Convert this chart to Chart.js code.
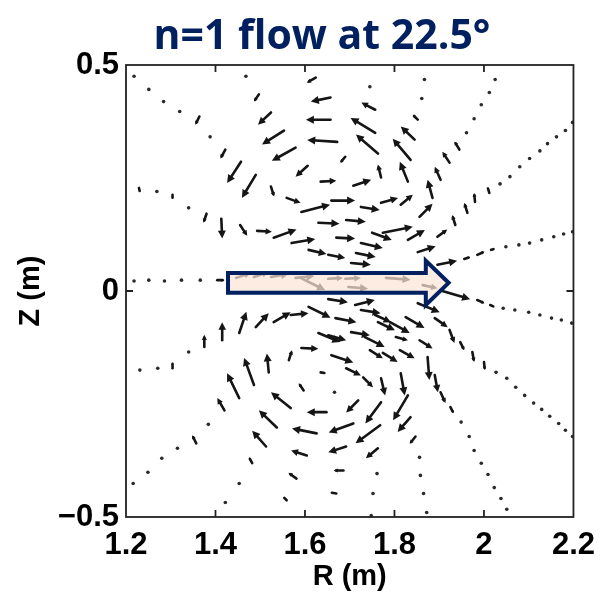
<!DOCTYPE html>
<html>
<head>
<meta charset="utf-8">
<script src="https://cdn.jsdelivr.net/npm/chart.js@4/dist/chart.umd.min.js"></script>
<style>
  html, body { margin: 0; padding: 0; background: #fff; }
  #wrap { width: 605px; height: 592px; }
</style>
</head>
<body>
<div id="wrap"><canvas id="flowChart" width="605" height="592"></canvas></div>
<script>
// flow vectors: tail position (R, Z) and arrow components (dR, dZ), all in metres
const arrowR = [
  1.364, 1.422, 1.457, 1.490, 1.524, 1.559, 1.592, 1.630, 1.497, 1.524,
  1.553, 1.579, 1.606, 1.635, 1.624, 1.657, 1.657, 1.672, 1.690, 1.757,
  1.757, 1.763, 1.770, 1.708, 1.659, 1.725, 1.770, 1.814, 1.852, 1.845,
  1.836, 1.830, 1.856, 1.885, 1.903, 1.923, 1.945, 1.963, 1.936, 1.896,
  1.852, 1.980, 2.012, 1.896, 1.956, 1.985, 2.016, 1.692, 1.670, 1.750,
  1.774, 1.830, 1.725, 1.608, 1.652, 1.714, 1.703, 1.229, 1.304, 1.380,
  1.413, 1.455, 1.493, 1.530, 1.570, 1.404, 1.446, 1.486, 1.524, 1.579,
  1.590, 1.652, 1.690, 1.781, 1.697, 1.863, 1.907, 1.985, 2.014, 1.652,
  1.712, 1.725, 1.668, 1.757, 1.763, 1.790, 1.825, 1.852, 1.890, 1.923,
  1.947, 1.974, 2.000, 1.652, 1.703, 1.734, 1.803, 1.856, 1.659, 1.692,
  1.730, 1.745, 1.774, 1.812, 1.874, 1.890, 1.903, 1.925, 1.814, 1.830,
  1.836, 1.847, 1.770, 1.770, 1.768, 1.763, 1.719, 1.708, 1.692, 1.686,
  1.670, 1.635, 1.304, 1.375, 1.415, 1.453, 1.490, 1.530, 1.568, 1.608,
  1.630, 1.592, 1.564, 1.519, 1.486, 1.453, 1.420, 1.357, 1.482, 1.513,
  1.537, 1.568, 1.597, 1.648, 1.626, 1.604, 1.581, 1.559,
];
const arrowZ = [
  0.386, 0.313, 0.286, 0.257, 0.231, 0.206, 0.175, 0.151, 0.435, 0.395,
  0.355, 0.317, 0.277, 0.242, 0.472, 0.428, 0.379, 0.330, 0.297, 0.401,
  0.350, 0.304, 0.251, 0.233, 0.200, 0.186, 0.195, 0.191, 0.379, 0.335,
  0.290, 0.242, 0.164, 0.206, 0.246, 0.284, 0.313, 0.173, 0.146, 0.120,
  0.086, 0.197, 0.217, 0.058, 0.071, 0.080, 0.091, 0.157, 0.118, 0.129,
  0.129, 0.113, 0.106, 0.091, 0.080, 0.084, 0.062, 0.228, 0.213, 0.171,
  0.160, 0.146, 0.133, 0.118, 0.106, 0.024, 0.029, 0.031, 0.031, 0.029,
  0.029, 0.027, 0.027, 0.029, 0.009, 0.013, 0.000, -0.020, -0.031, -0.018,
  -0.031, -0.042, -0.060, -0.053, -0.069, -0.069, -0.058, -0.027, -0.060, -0.086,
  -0.113, -0.135, -0.157, -0.098, -0.091, -0.102, -0.102, -0.109, -0.142, -0.171,
  -0.191, -0.131, -0.137, -0.131, -0.146, -0.186, -0.224, -0.257, -0.182, -0.231,
  -0.279, -0.322, -0.193, -0.246, -0.297, -0.348, -0.242, -0.293, -0.344, -0.397,
  -0.448, -0.180, -0.171, -0.124, -0.109, -0.093, -0.080, -0.069, -0.053, -0.035,
  -0.093, -0.126, -0.153, -0.180, -0.208, -0.237, -0.264, -0.337, -0.381, -0.344,
  -0.302, -0.259, -0.220, -0.268, -0.315, -0.364, -0.415, -0.463,
];
const arrowU = [
  -0.009, -0.011, -0.031, -0.031, 0.007, 0.031, 0.064, 0.047, -0.011, -0.029,
  -0.049, -0.053, -0.027, 0.035, -0.020, -0.044, -0.055, -0.067, -0.011, -0.031,
  -0.055, -0.049, -0.007, 0.040, 0.053, 0.042, 0.038, 0.027, -0.011, -0.031,
  -0.040, -0.018, 0.029, -0.011, -0.013, -0.016, -0.011, -0.007, -0.007, 0.022,
  0.040, -0.002, -0.004, 0.044, 0.013, 0.016, 0.007, 0.044, 0.042, 0.044,
  0.067, 0.038, 0.049, 0.040, 0.038, 0.044, 0.044, 0.002, 0.000, -0.007,
  0.002, 0.016, 0.033, 0.051, 0.053, 0.016, 0.033, 0.033, 0.040, 0.042,
  0.055, 0.033, 0.035, 0.055, 0.044, 0.033, 0.062, 0.016, 0.009, 0.044,
  0.044, 0.044, 0.047, 0.035, 0.038, 0.044, 0.042, 0.049, 0.029, 0.011,
  0.009, 0.004, 0.002, 0.040, 0.042, 0.044, 0.027, 0.029, 0.049, 0.033,
  0.022, 0.029, 0.033, 0.033, 0.004, 0.007, 0.011, 0.007, 0.009, -0.033,
  -0.029, -0.013, 0.009, -0.035, -0.055, -0.027, -0.027, -0.055, -0.040, -0.022,
  -0.013, 0.011, 0.000, 0.000, 0.000, 0.016, 0.029, 0.038, 0.040, 0.049,
  0.049, 0.038, 0.007, -0.004, -0.022, -0.027, -0.016, -0.009, -0.007, -0.031,
  -0.040, -0.044, -0.011, -0.044, -0.055, -0.035, -0.018, -0.007,
];
const arrowV = [
  -0.018, -0.020, -0.047, -0.051, -0.022, -0.011, 0.016, -0.002, -0.016, -0.027,
  -0.031, -0.029, -0.024, 0.002, -0.011, -0.009, 0.000, 0.004, -0.013, 0.016,
  0.033, 0.042, 0.029, 0.013, 0.000, -0.007, 0.011, 0.022, 0.011, 0.029,
  0.047, 0.044, 0.029, 0.040, 0.029, 0.024, 0.018, 0.022, 0.022, 0.016,
  0.013, 0.020, 0.013, 0.009, 0.004, 0.007, 0.002, -0.004, -0.002, -0.016,
  0.013, 0.022, -0.011, -0.009, -0.007, -0.009, -0.004, -0.009, -0.009, -0.020,
  -0.044, -0.024, -0.002, 0.018, 0.009, 0.000, 0.011, 0.011, 0.007, 0.004,
  -0.027, 0.002, 0.002, -0.004, -0.004, -0.007, -0.018, -0.007, -0.004, -0.007,
  0.011, -0.007, -0.009, -0.016, -0.018, -0.024, -0.024, -0.020, -0.020, -0.029,
  -0.018, -0.022, -0.018, -0.011, -0.007, -0.022, -0.007, -0.018, -0.016, -0.016,
  -0.022, -0.018, -0.020, -0.018, -0.051, -0.038, -0.024, -0.013, -0.049, -0.055,
  -0.033, -0.016, -0.038, -0.047, -0.040, -0.022, -0.027, -0.020, -0.013, 0.000,
  0.002, -0.002, 0.013, 0.027, 0.040, 0.047, 0.031, 0.022, 0.004, -0.024,
  -0.020, -0.002, 0.022, 0.042, 0.060, 0.055, 0.027, 0.018, 0.013, 0.035,
  0.038, 0.035, 0.016, 0.000, 0.011, 0.011, 0.013, 0.007,
];

// grid points where the flow is too small to show an arrow
const dotR = [
  1.218, 1.251, 1.284, 1.320, 1.388, 1.468, 1.745, 1.867, 1.861, 1.961,
  1.978, 1.994, 2.012, 2.025, 2.036, 2.058, 2.080, 2.102, 2.125, 2.142,
  2.162, 2.182, 2.198, 2.049, 2.078, 2.102, 2.129, 2.156, 2.178, 2.198,
  1.269, 1.340, 1.218, 1.251, 1.286, 1.324, 1.366, 2.043, 2.069, 2.100,
  2.125, 2.151, 2.173, 2.196, 2.027, 2.051, 2.071, 2.091, 2.111, 2.129,
  2.147, 2.167, 2.182, 2.198, 1.949, 1.967, 1.978, 1.994, 2.009, 2.023,
  2.038, 2.051, 1.856, 1.858, 1.865, 1.872, 1.761, 1.752, 1.748, 1.666,
  1.231, 1.271, 1.340, 1.384, 1.315, 1.280, 1.249, 1.216, 1.453, 1.422,
];
const dotZ = [
  0.475, 0.446, 0.419, 0.397, 0.341, 0.475, 0.452, 0.468, 0.426, 0.350,
  0.381, 0.412, 0.439, 0.468, 0.237, 0.253, 0.275, 0.293, 0.310, 0.326,
  0.341, 0.355, 0.373, 0.098, 0.102, 0.106, 0.113, 0.120, 0.126, 0.131,
  0.220, 0.184, 0.022, 0.024, 0.022, 0.024, 0.024, -0.038, -0.042, -0.047,
  -0.053, -0.060, -0.064, -0.071, -0.180, -0.193, -0.213, -0.231, -0.248, -0.262,
  -0.277, -0.293, -0.308, -0.322, -0.290, -0.322, -0.353, -0.381, -0.406, -0.435,
  -0.459, -0.483, -0.368, -0.408, -0.448, -0.490, -0.404, -0.448, -0.497, -0.224,
  -0.175, -0.171, -0.135, -0.295, -0.348, -0.370, -0.401, -0.426, -0.426, -0.468,
];

const rTicks = [1.2, 1.4, 1.6, 1.8, 2.0, 2.2];
const zTicks = [-0.5, 0, 0.5];

const tickFont = { family: '"Liberation Sans", Arial, sans-serif', weight: 'bold', size: 31 };
const labelFont = { family: '"Liberation Sans", Arial, sans-serif', weight: 'bold', size: 29, lineHeight: 1 };
const navy = '#002060';

const dots = dotR.map((r, i) => ({ x: r, y: dotZ[i] }));

function drawArrow(ctx, x0, y0, x1, y1) {
  const dx = x1 - x0;
  const dy = y1 - y0;
  const len = Math.hypot(dx, dy);
  if (len < 0.5) return;
  const ux = dx / len;
  const uy = dy / len;
  const hl = Math.min(8, len * 0.42);
  const hw = hl * 0.5;
  ctx.beginPath();
  ctx.moveTo(x0, y0);
  ctx.lineTo(x1 - ux * hl * 0.6, y1 - uy * hl * 0.6);
  ctx.stroke();
  ctx.beginPath();
  ctx.moveTo(x1, y1);
  ctx.lineTo(x1 - ux * hl - uy * hw, y1 - uy * hl + ux * hw);
  ctx.lineTo(x1 - ux * hl + uy * hw, y1 - uy * hl - ux * hw);
  ctx.closePath();
  ctx.fill();
}

const quiverPlugin = {
  id: 'quiver',
  afterDatasetsDraw(chart) {
    const { ctx, chartArea, scales: { x, y } } = chart;
    ctx.save();
    ctx.beginPath();
    ctx.rect(chartArea.left, chartArea.top, chartArea.width, chartArea.height);
    ctx.clip();
    ctx.strokeStyle = '#151515';
    ctx.fillStyle = '#151515';
    ctx.lineWidth = 2.6;
    ctx.lineCap = 'round';
    arrowR.forEach((r, i) => {
      const x0 = x.getPixelForValue(r);
      const y0 = y.getPixelForValue(arrowZ[i]);
      const x1 = x.getPixelForValue(r + arrowU[i]);
      const y1 = y.getPixelForValue(arrowZ[i] + arrowV[i]);
      drawArrow(ctx, x0, y0, x1, y1);
    });
    ctx.restore();

    // highlighted midplane flow arrow
    const shape = [
      [1.428, 0.040], [1.870, 0.040], [1.870, 0.067], [1.921, 0.018],
      [1.870, -0.031], [1.870, -0.004], [1.428, -0.004],
    ];
    ctx.save();
    ctx.beginPath();
    shape.forEach(([r, z], i) => {
      const px = x.getPixelForValue(r);
      const py = y.getPixelForValue(z);
      if (i === 0) ctx.moveTo(px, py); else ctx.lineTo(px, py);
    });
    ctx.closePath();
    ctx.fillStyle = 'rgba(252, 228, 214, 0.72)';
    ctx.fill();
    ctx.lineWidth = 4;
    ctx.lineJoin = 'miter';
    ctx.strokeStyle = navy;
    ctx.stroke();
    ctx.restore();
  },
  afterDraw(chart) {
    const { ctx, chartArea: a, scales: { x, y } } = chart;
    ctx.save();
    ctx.strokeStyle = '#222';
    ctx.lineWidth = 1.8;
    ctx.strokeRect(a.left, a.top, a.width, a.height);
    ctx.beginPath();
    rTicks.slice(1, -1).forEach((v) => {
      const px = x.getPixelForValue(v);
      ctx.moveTo(px, a.bottom); ctx.lineTo(px, a.bottom - 7);
      ctx.moveTo(px, a.top); ctx.lineTo(px, a.top + 7);
    });
    const py = y.getPixelForValue(0);
    ctx.moveTo(a.left, py); ctx.lineTo(a.left + 7, py);
    ctx.moveTo(a.right, py); ctx.lineTo(a.right - 7, py);
    ctx.stroke();

    ctx.fillStyle = navy;
    ctx.font = 'bold 41px "Open Sans", sans-serif';
    ctx.textAlign = 'center';
    ctx.textBaseline = 'alphabetic';
    ctx.fillText('n=1 flow at 22.5°', 322, 49);
    ctx.restore();
  },
};

const fmt = (v) => {
  const r = Math.round(v * 10) / 10;
  if (r === 0) return '0';
  return r < 0 ? '\u2212' + String(-r) : String(r);
};

new Chart(document.getElementById('flowChart'), {
  type: 'scatter',
  data: {
    datasets: [{
      data: dots,
      pointRadius: 1.8,
      pointBackgroundColor: '#2a2a2a',
      pointBorderWidth: 0,
    }],
  },
  options: {
    responsive: false,
    animation: false,
    layout: { padding: { top: 65, right: 28, left: 0, bottom: 0 } },
    plugins: {
      legend: { display: false },
      tooltip: { enabled: false },
    },
    scales: {
      x: {
        type: 'linear',
        min: 1.2,
        max: 2.2,
        afterFit: (s) => { s.height = 75; },
        afterBuildTicks: (s) => { s.ticks = rTicks.map((v) => ({ value: v })); },
        grid: { display: false, drawTicks: false },
        border: { display: false },
        ticks: { color: '#000', font: tickFont, padding: 10, maxRotation: 0, autoSkip: false, callback: fmt },
        title: { display: true, text: 'R (m)', color: '#000', font: labelFont, padding: { top: 0, bottom: 1 } },
      },
      y: {
        type: 'linear',
        min: -0.5,
        max: 0.5,
        afterFit: (s) => { s.width = 126; },
        afterBuildTicks: (s) => { s.ticks = zTicks.map((v) => ({ value: v })); },
        grid: { display: false, drawTicks: false },
        border: { display: false },
        ticks: { color: '#000', font: tickFont, padding: 7, callback: fmt },
        title: { display: true, text: 'Z (m)', color: '#000', font: labelFont, padding: { top: 16, bottom: 0 } },
      },
    },
  },
  plugins: [quiverPlugin],
});
</script>
</body>
</html>
